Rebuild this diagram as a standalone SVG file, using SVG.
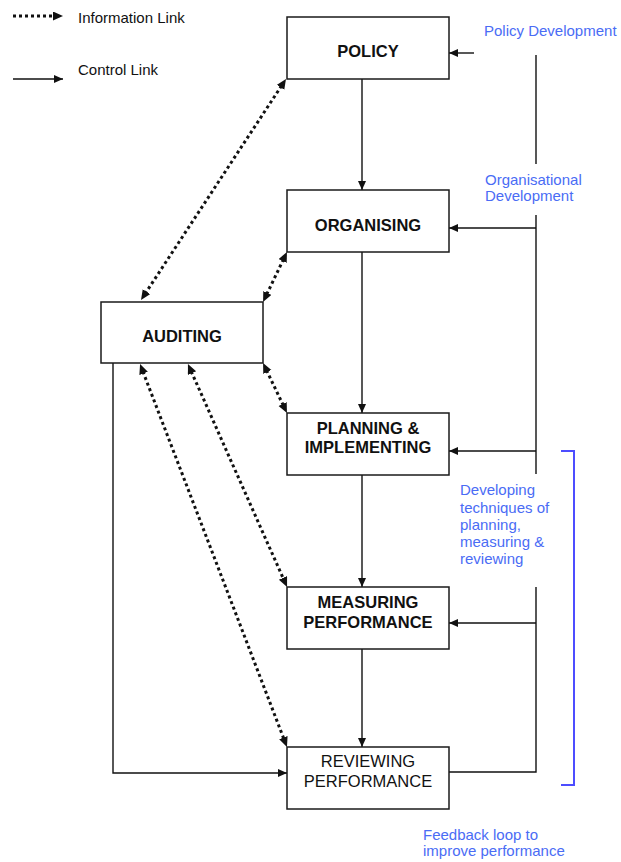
<svg xmlns="http://www.w3.org/2000/svg" width="621" height="862" viewBox="0 0 621 862">
  <defs>
    <style>
      .box { fill: #ffffff; stroke: #1a1a1a; stroke-width: 1.5; }
      .title { font-family: "Liberation Sans", Arial, sans-serif; font-size: 16.5px; font-weight: bold; fill: #111; text-anchor: middle; }
      .title-plain { font-family: "Liberation Sans", Arial, sans-serif; font-size: 16.5px; fill: #111; text-anchor: middle; }
      .legend { font-family: "Liberation Sans", Arial, sans-serif; font-size: 15px; fill: #111; }
      .note { font-family: "Liberation Sans", Arial, sans-serif; font-size: 15px; fill: #4a6cf5; }
      .ctrl { fill: none; stroke: #111; stroke-width: 1.4; }
      .info { fill: none; stroke: #111; stroke-width: 3; stroke-dasharray: 3 3; }
      .bracket { fill: none; stroke: #4d4dff; stroke-width: 2; }
    </style>
    <!-- solid arrowhead for control links -->
    <marker id="ctrlHead" markerUnits="userSpaceOnUse" markerWidth="10" markerHeight="8" refX="9" refY="4" orient="auto">
      <path d="M0,0 L9,4 L0,8 z" fill="#111"/>
    </marker>
    <!-- arrowhead for dotted information links; tip sits 8px past the line end -->
    <marker id="infoHead" markerUnits="userSpaceOnUse" markerWidth="11" markerHeight="10" refX="2" refY="4.5" orient="auto-start-reverse">
      <path d="M0,0 L10,4.5 L0,9 z" fill="#111"/>
    </marker>
  </defs>

  <rect width="621" height="862" fill="#ffffff"/>

  <!-- legend -->
  <g id="legend">
    <line class="info" x1="13" y1="16" x2="55" y2="16" marker-end="url(#infoHead)"/>
    <text class="legend" x="78" y="23">Information Link</text>
    <line class="ctrl" x1="13" y1="79" x2="63" y2="79" marker-end="url(#ctrlHead)"/>
    <text class="legend" x="78" y="75">Control Link</text>
  </g>

  <!-- connectors -->
  <g id="connectors">
    <!-- main control chain -->
    <line class="ctrl" x1="362" y1="79" x2="362" y2="190" marker-end="url(#ctrlHead)"/>
    <line class="ctrl" x1="362" y1="252" x2="362" y2="413" marker-end="url(#ctrlHead)"/>
    <line class="ctrl" x1="362" y1="475" x2="362" y2="587" marker-end="url(#ctrlHead)"/>
    <line class="ctrl" x1="362" y1="649" x2="362" y2="747" marker-end="url(#ctrlHead)"/>

    <!-- auditing to reviewing -->
    <polyline class="ctrl" points="113,363 113,773 287,773" marker-end="url(#ctrlHead)"/>

    <!-- feedback spine on the right -->
    <line class="ctrl" x1="474" y1="53" x2="449" y2="53" marker-end="url(#ctrlHead)"/>
    <line class="ctrl" x1="536" y1="55" x2="536" y2="164"/>
    <line class="ctrl" x1="536" y1="215" x2="536" y2="474"/>
    <line class="ctrl" x1="536" y1="228" x2="449" y2="228" marker-end="url(#ctrlHead)"/>
    <line class="ctrl" x1="536" y1="451" x2="449" y2="451" marker-end="url(#ctrlHead)"/>
    <polyline class="ctrl" points="449,772 536,772 536,587"/>
    <line class="ctrl" x1="536" y1="623" x2="449" y2="623" marker-end="url(#ctrlHead)"/>

    <!-- information links with auditing -->
    <line class="info" x1="281.6" y1="85.7" x2="145.4" y2="293.3" marker-start="url(#infoHead)" marker-end="url(#infoHead)"/>
    <line class="info" x1="283.5" y1="259.2" x2="266.5" y2="294.8" marker-start="url(#infoHead)" marker-end="url(#infoHead)"/>
    <line class="info" x1="266.5" y1="370.2" x2="283.5" y2="405.8" marker-start="url(#infoHead)" marker-end="url(#infoHead)"/>
    <line class="info" x1="142.9" y1="371.5" x2="284.1" y2="739.5" marker-start="url(#infoHead)" marker-end="url(#infoHead)"/>
    <line class="info" x1="191.2" y1="371.3" x2="283.8" y2="579.7" marker-start="url(#infoHead)" marker-end="url(#infoHead)"/>

    <!-- bracket grouping the lower development stage -->
    <polyline class="bracket" points="561,451 574,451 574,785 561,785"/>
  </g>

  <!-- nodes -->
  <g id="policy">
    <rect class="box" x="287" y="17" width="162" height="62"/>
    <text class="title" x="368" y="57">POLICY</text>
  </g>
  <g id="organising">
    <rect class="box" x="287" y="190" width="162" height="62"/>
    <text class="title" x="368" y="231">ORGANISING</text>
  </g>
  <g id="auditing">
    <rect class="box" x="101" y="302" width="162" height="61"/>
    <text class="title" x="182" y="342">AUDITING</text>
  </g>
  <g id="planning">
    <rect class="box" x="287" y="413" width="162" height="62"/>
    <text class="title" x="368" y="434">PLANNING &amp;</text>
    <text class="title" x="368" y="453">IMPLEMENTING</text>
  </g>
  <g id="measuring">
    <rect class="box" x="287" y="587" width="162" height="62"/>
    <text class="title" x="368" y="608">MEASURING</text>
    <text class="title" x="368" y="628">PERFORMANCE</text>
  </g>
  <g id="reviewing">
    <rect class="box" x="287" y="747" width="162" height="62"/>
    <text class="title-plain" x="368" y="767">REVIEWING</text>
    <text class="title-plain" x="368" y="787">PERFORMANCE</text>
  </g>

  <!-- side notes -->
  <g id="notes">
    <text class="note" x="484" y="36">Policy Development</text>
    <text class="note" x="485" y="185">Organisational</text>
    <text class="note" x="485" y="201">Development</text>
    <text class="note" x="460" y="495">Developing</text>
    <text class="note" x="460" y="512.5">techniques of</text>
    <text class="note" x="460" y="530">planning,</text>
    <text class="note" x="460" y="547">measuring &amp;</text>
    <text class="note" x="460" y="564">reviewing</text>
    <text class="note" x="423" y="840">Feedback loop to</text>
    <text class="note" x="423" y="856">improve performance</text>
  </g>
</svg>
